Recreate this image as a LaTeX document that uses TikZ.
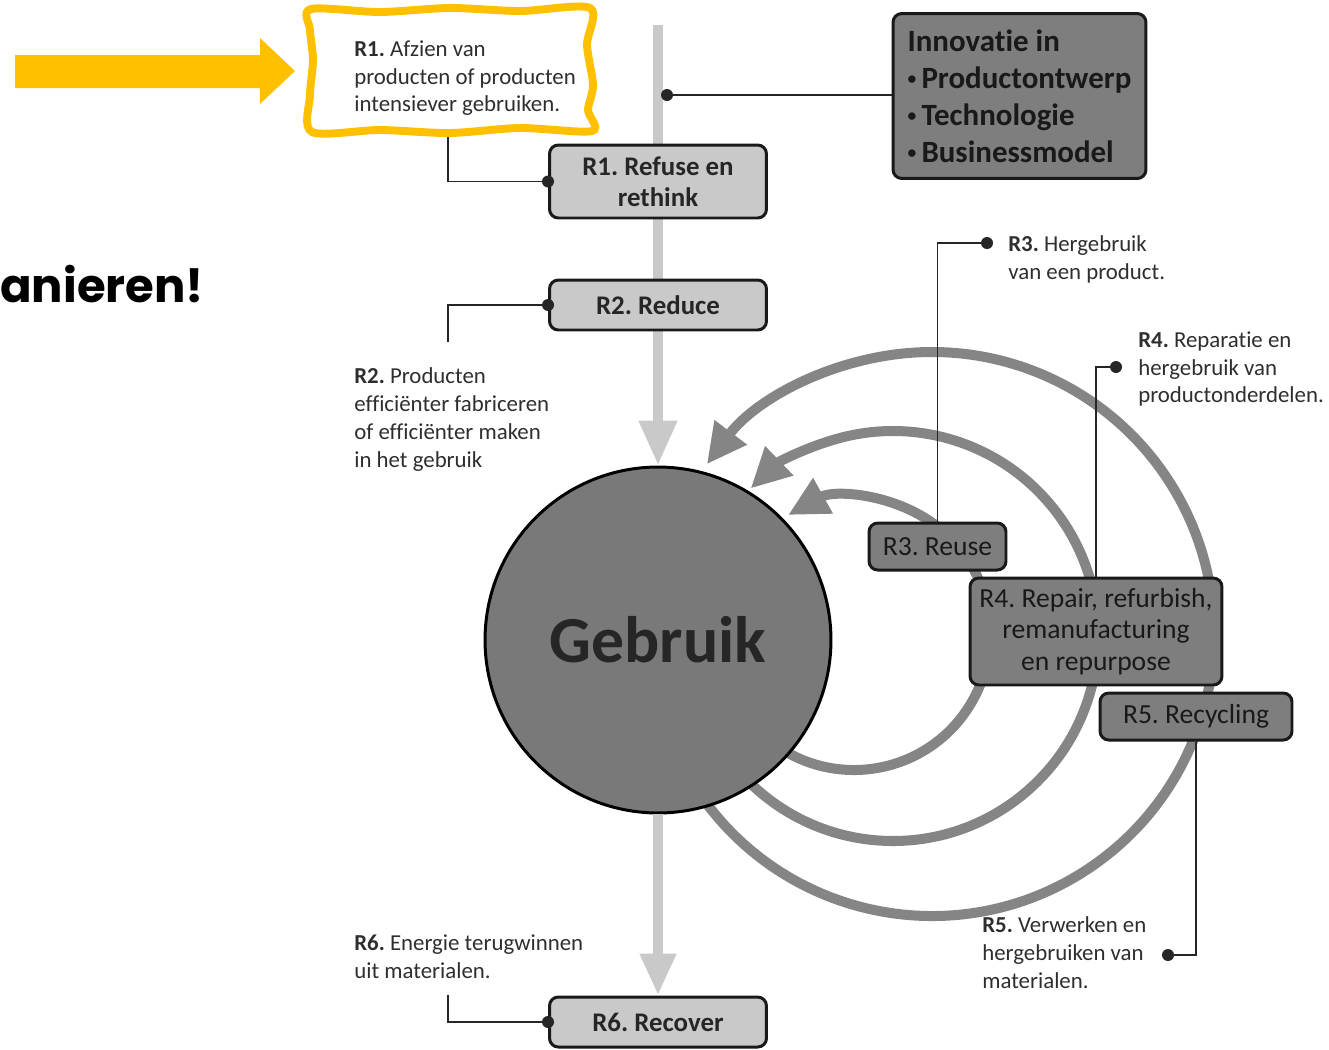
\documentclass[tikz,border=0pt]{standalone}
\usepackage{fontspec}
\setmainfont{Carlito}[RawFeature={-liga;-clig;-calt;-dlig}]
\newfontfamily\kopfont{Poppins}
\usetikzlibrary{arrows.meta}
\frenchspacing

\definecolor{rgeel}{HTML}{FFC000}
\definecolor{rlicht}{HTML}{C9C9C9}
\definecolor{rdonker}{HTML}{7E7E7E}
\definecolor{rboog}{HTML}{858585}
\definecolor{rtekst}{HTML}{2E2E2E}

\newcommand{\stipje}{\raisebox{0.12em}{\fontsize{10}{10}\selectfont•}\,}

\tikzset{
  lichtbox/.style={draw=black!90, line width=1.7pt, fill=rlicht, rounded corners=5pt,
    font=\fontsize{15.3}{17.6}\selectfont\bfseries, text=black!85, align=center, inner sep=0pt},
  donkerbox/.style={draw=black!90, line width=1.7pt, fill=rdonker, rounded corners=5pt,
    font=\fontsize{15.7}{18.1}\selectfont, text=black!90, align=center, inner sep=0pt},
  uitleg/.style={anchor=north west, inner sep=0pt, align=left, text=rtekst,
    font=\fontsize{13}{15.9}\selectfont},
  boog/.style={draw=rboog, line width=5.7pt, -{Triangle[length=0.8cm,width=0.76cm]}},
  pijl/.style={draw=rlicht, line width=6pt, -{Triangle[length=0.9cm,width=0.72cm]}},
  lijn/.style={draw=black!85, line width=0.8pt},
  stip/.style={fill=black!85}
}

\begin{document}
\begin{tikzpicture}[x=0.02cm,y=-0.02cm]
  \useasboundingbox (0,0) rectangle (1329,1049);

  % gele markering
  \fill[rgeel] (15,55) -- (260,55) -- (260,38) -- (295,71) -- (260,104) -- (260,88) -- (15,88) -- cycle;
  \draw[rgeel, line width=4.5pt] plot[smooth cycle, tension=0.5] coordinates {
    (311,9) (380,12) (450,8) (520,11) (590,8) (587,45) (593,85) (588,110)
    (592,131) (520,128) (450,133) (380,130) (312,132) (310,95) (313,60) (310,30)};
  \node[anchor=base west, inner sep=0pt, font=\kopfont\bfseries\fontsize{26.5}{30}\selectfont] (kop) at (0,302) {anieren!};

  % kringlopen
  \draw[boog] (854,634) ++(125:136) arc[start angle=125, end angle=-119, radius=136];
  \draw[boog] (893,636) ++(137:205) arc[start angle=137, end angle=-134, radius=205];
  \draw[boog] (932,634) ++(146:282) arc[start angle=146, end angle=-143, radius=282];

  \node[circle, draw=black, line width=1.7pt, fill=rdonker!96!black, minimum size=6.92cm, inner sep=0pt,
    font=\fontsize{37.4}{40}\selectfont\bfseries, text=black!85] (gebruik) at (658,640) {Gebruik};

  \node[lichtbox, minimum width=4.34cm, minimum height=1cm] (r6) at (658,1022) {R6. Recover};

  % hoofdlijn
  \coordinate (boven) at (658,25);
  \draw[pijl] (boven) -- (gebruik.north);
  \draw[pijl, -{Triangle[length=0.84cm,width=0.68cm]}] (gebruik.south) -- (r6.north);

  \node[lichtbox, minimum width=4.34cm, minimum height=1.46cm] (r1) at (658,181.5) {R1. Refuse en\\rethink};
  \node[lichtbox, minimum width=4.34cm, minimum height=1cm] (r2) at (658,305) {R2. Reduce};
  \node[donkerbox, minimum width=5.06cm, minimum height=3.3cm, align=left,
    font=\fontsize{17.6}{21}\selectfont\bfseries] (innov) at (1019.5,96)
    {Innovatie in\\\stipje Productontwerp\\\stipje Technologie\\\stipje Businessmodel};
  \node[donkerbox, minimum width=2.74cm, minimum height=0.94cm] (r3) at (937.5,546.5) {R3. Reuse};
  \node[donkerbox, minimum width=5.04cm, minimum height=2.14cm] (r4) at (1096,631.5)
    {R4. Repair, refurbish,\\remanufacturing\\en repurpose};
  \node[donkerbox, minimum width=3.84cm, minimum height=0.94cm] (r5) at (1196,716.5) {R5. Recycling};

  % toelichting
  \node[uitleg] (t1) at (354,40) {\textbf{R1.} Afzien van\\producten of producten\\intensiever gebruiken.};
  \node[uitleg] (t2) at (354,367) {\textbf{R2.} Producten\\efficiënter fabriceren\\of efficiënter maken\\in het gebruik};
  \node[uitleg] (t3) at (1008,235) {\textbf{R3.} Hergebruik\\van een product.};
  \node[uitleg] (t4) at (1138,331) {\textbf{R4.} Reparatie en\\hergebruik van\\productonderdelen.};
  \node[uitleg] (t5) at (982,916) {\textbf{R5.} Verwerken en\\hergebruiken van\\materialen.};
  \node[uitleg] (t6) at (354,934) {\textbf{R6.} Energie terugwinnen\\uit materialen.};

  \coordinate (k1) at (448,137);
  \coordinate (k2) at (448,342);
  \coordinate (k6) at (448,995);
  \coordinate (s0) at (667,95);
  \coordinate (s3) at (987,243);
  \coordinate (s4) at (1116,367);
  \coordinate (s5) at (1168,955);
  \draw[lijn] (k1) |- (r1.west);
  \draw[lijn] (k2) |- (r2.west);
  \draw[lijn] (k6) |- (r6.west);
  \draw[lijn] (s0) -- (s0 -| innov.west);
  \draw[lijn] (r3.north) |- (s3);
  \draw[lijn] (r4.north) |- (s4);
  \draw[lijn] (r5.south) |- (s5);
  \foreach \p in {r1.west,r2.west,r6.west,s0,s3,s4,s5}{\fill[stip] (\p) circle (6);}
\end{tikzpicture}
\end{document}
